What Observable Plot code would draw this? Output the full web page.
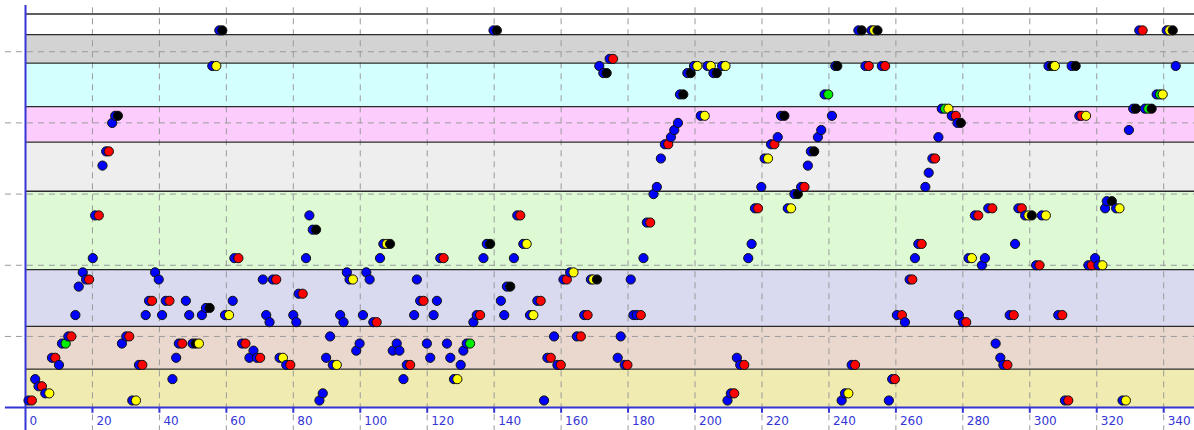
<!DOCTYPE html>
<html>
<head>
<meta charset="utf-8">
<script src="https://cdn.jsdelivr.net/npm/d3@7"></script>
<script src="https://cdn.jsdelivr.net/npm/@observablehq/plot@0.6"></script>
<style>
  html, body { margin: 0; padding: 0; background: #ffffff; }
  svg { display: block; }
</style>
</head>
<body>
<div id="chart"></div>
<script>
// ---- data ----
const xTicks = [0, 20, 40, 60, 80, 100, 120, 140, 160, 180, 200, 220, 240, 260, 280, 300, 320, 340];
const yGrid = [10, 20, 30, 40, 50];

const bandLow   = [0,   5.4,  11.4, 19.4, 30.4, 37.3, 42.3, 48.4, 52.4];
const bandHigh  = [5.4, 11.4, 19.4, 30.4, 37.3, 42.3, 48.4, 52.4, 55.3];
const bandColor = ["#efebb1", "#ead8ce", "#d9d9ef", "#ddfad5", "#eeeeee", "#fcccfc", "#d4ffff", "#d3d3d3", "#ffffff"];

const pointX = [
  0.9,1.9,2.9,3.9,4.9,5.9,7.1,7.9,8.9,10.0,10.9,12.0,12.8,13.7,14.9,15.9,17.1,18.1,19.0,20.1,
  20.8,21.9,23.0,24.1,24.9,25.9,26.8,27.6,28.8,30.1,31.0,31.9,33.0,33.9,34.9,35.9,36.9,37.8,38.7,39.8,
  40.8,41.9,43.0,43.9,45.0,45.8,46.8,47.9,48.9,49.9,50.8,51.8,52.7,53.9,55.0,55.8,57.0,57.9,58.8,59.6,
  60.8,61.9,62.4,63.6,64.7,65.7,66.9,68.1,69.1,70.1,70.9,71.9,72.9,73.9,74.9,75.9,76.9,77.9,79.1,80.0,
  80.9,81.6,82.8,83.8,84.8,85.8,86.8,87.8,88.8,89.8,91.0,91.8,93.0,94.0,95.0,96.0,96.8,97.8,98.8,99.8,
  100.8,101.8,102.8,103.9,104.9,105.9,106.9,107.9,108.9,109.7,110.9,111.7,112.9,113.9,114.9,116.1,116.9,117.9,118.9,119.9,
  120.9,121.9,122.9,123.9,124.9,125.9,126.9,128.0,129.0,130.0,130.8,131.8,132.8,133.8,134.8,135.8,136.8,137.8,138.8,139.8,
  140.8,142.0,143.0,143.8,144.8,145.9,146.9,147.8,148.7,149.7,150.7,151.7,152.9,153.9,154.9,155.9,156.9,157.9,158.9,159.9,
  160.7,161.7,162.7,163.7,164.7,165.9,166.9,167.9,168.9,169.6,170.7,171.4,172.6,173.6,174.5,175.5,176.9,177.8,179.0,179.8,
  180.8,181.6,182.6,183.8,184.6,185.6,186.6,187.6,188.6,189.8,191.0,192.0,192.8,193.8,194.9,195.5,196.5,197.7,198.7,199.7,
  200.7,201.7,202.9,203.7,204.7,205.5,206.5,208.1,209.1,209.7,210.7,211.7,212.5,213.5,214.7,215.9,216.9,217.9,218.8,219.8,
  220.8,221.8,222.7,223.7,224.7,225.7,226.7,227.7,228.7,229.7,230.7,231.7,232.7,233.7,234.6,235.6,236.7,237.7,238.7,239.8,
  240.9,241.9,242.5,243.8,244.8,245.8,246.8,247.8,248.8,249.8,250.9,251.9,252.7,253.5,254.5,255.8,256.8,257.9,258.9,259.7,
  260.3,261.8,262.7,264.1,264.9,265.7,266.7,267.7,268.8,269.8,270.9,271.7,272.7,273.7,274.7,275.7,276.7,277.9,278.4,279.4,
  278.8,280.0,281.0,281.7,282.7,283.6,284.6,285.7,286.6,287.6,288.8,289.8,291.2,292.1,293.3,294.0,295.2,295.6,296.6,297.6,
  298.6,299.6,300.6,301.9,302.9,303.6,304.8,305.6,306.6,307.5,308.5,309.7,310.5,311.5,312.5,313.7,314.8,315.5,316.8,317.5,
  318.5,319.5,320.5,321.7,322.5,323.0,324.5,325.8,326.8,327.7,328.7,329.6,330.9,331.7,332.7,333.7,334.4,335.4,336.4,337.9,
  338.9,339.7,340.9,341.7,342.7,343.6
];
const pointLevel = [
  1,1,4,3,3,2,2,7,7,6,9,9,10,10,13,17,19,18,18,21,
  27,27,34,36,36,40,41,41,9,10,10,1,1,6,6,13,15,15,19,18,
  13,15,15,4,7,9,9,15,13,9,9,9,13,14,14,48,48,53,53,13,
  13,15,21,21,9,9,7,8,7,7,18,13,12,18,18,7,7,6,6,13,
  12,16,16,21,27,25,25,1,2,7,10,6,6,13,12,19,18,18,8,9,
  13,19,18,12,12,21,23,23,23,8,9,8,4,6,6,13,18,15,15,9,
  7,13,15,21,21,9,7,4,4,6,8,9,9,12,13,13,21,23,23,53,
  53,15,13,17,17,21,27,27,23,23,13,13,15,15,1,7,7,10,6,6,
  18,18,19,19,10,10,13,13,18,18,18,48,47,47,49,49,7,10,6,6,
  18,13,13,13,21,26,26,30,31,35,37,37,38,39,40,44,44,47,47,48,
  48,41,41,48,48,47,47,48,48,1,2,2,7,6,6,21,23,28,28,31,
  35,35,37,37,38,41,41,28,28,30,30,31,31,34,36,36,38,39,44,44,
  41,48,48,1,2,2,6,6,53,53,48,48,53,53,53,48,48,1,4,4,
  13,13,12,18,18,21,23,23,31,33,35,35,38,42,42,42,41,41,40,40,
  13,12,12,21,21,27,27,20,21,28,28,9,7,6,6,13,13,23,28,28,
  27,27,27,20,20,27,27,48,48,48,13,13,1,1,48,48,41,41,41,20,
  20,21,20,20,28,29,29,28,28,1,1,39,42,42,53,53,42,42,42,44,
  44,44,53,53,53,48
];
const pointColor = [
  "B","R","B","B","R","B","Y","B","R","B","B","G","B","R","B","B","B","B","R","B",
  "B","R","B","B","R","B","B","K","B","B","R","B","Y","B","R","B","B","R","B","B",
  "B","B","R","B","B","B","R","B","B","B","K","Y","B","B","K","B","Y","B","K","B",
  "Y","B","B","R","B","R","B","B","B","R","B","B","B","B","R","B","Y","B","R","B",
  "B","B","R","B","B","B","K","B","B","B","B","B","Y","B","B","B","B","Y","B","B",
  "B","B","B","B","R","B","B","Y","K","B","B","B","B","B","R","B","B","B","R","B",
  "B","B","B","B","R","B","B","B","Y","B","B","B","G","B","B","R","B","B","K","B",
  "K","B","B","B","K","B","B","R","B","Y","B","Y","B","R","B","B","R","B","B","R",
  "B","R","B","Y","B","R","B","R","B","Y","K","B","B","K","B","R","B","B","B","R",
  "B","B","B","R","B","B","R","B","B","B","B","R","B","B","B","B","K","B","K","B",
  "Y","B","Y","B","Y","B","K","B","Y","B","B","R","B","B","R","B","B","B","R","B",
  "B","Y","B","R","B","B","K","B","Y","B","K","B","R","B","B","K","B","B","B","G",
  "B","B","K","B","B","Y","B","R","B","K","B","R","B","Y","K","B","R","B","B","R",
  "B","R","B","B","R","B","B","R","B","B","B","R","B","B","G","Y","B","R","B","K",
  "B","B","R","B","Y","B","R","B","B","B","R","B","B","B","R","B","R","B","B","R",
  "B","Y","K","B","R","B","Y","B","K","Y","B","R","B","R","B","K","B","R","Y","B",
  "R","B","B","Y","B","B","K","B","Y","B","Y","B","B","K","B","R","B","G","K","B",
  "G","Y","B","Y","K","B"
];

const colorHex = {B: "#0000ff", R: "#ff0000", Y: "#ffff00", K: "#000000", G: "#00ee00"};
const axisBlue = "#3535d6";

const points = pointX.map((x, i) => ({x, level: pointLevel[i], color: colorHex[pointColor[i]]}));
const bands = bandLow.map((lo, i) => ({lo, hi: bandHigh[i], color: bandColor[i]}));
const boundaries = bandHigh;

const X_MAX = 349.2;

const chart = Plot.plot({
  width: 1194,
  height: 430,
  x: {domain: [0, X_MAX], range: [25, 1194], axis: null},
  y: {domain: [0, 57.2], range: [407.1, 0], axis: null},
  color: {type: "identity"},
  style: {background: "#ffffff", fontFamily: "DejaVu Sans, sans-serif"},
  marks: [
    Plot.rect(bands, {x1: 0, x2: X_MAX, y1: "lo", y2: "hi", fill: "color"}),
    Plot.ruleX(xTicks.filter(t => t > 0), {y1: -3.4, y2: 56.6, stroke: "#9a9a9a", strokeWidth: 1, strokeDasharray: "6,5"}),
    Plot.ruleY(yGrid, {x1: -6, x2: X_MAX, stroke: "#9a9a9a", strokeWidth: 1, strokeDasharray: "6,5"}),
    Plot.ruleY(boundaries, {x1: 0, x2: X_MAX, stroke: "#2a2a2a", strokeWidth: 1.3}),
    Plot.ruleY([0], {x1: -6, x2: X_MAX, stroke: axisBlue, strokeWidth: 2}),
    Plot.ruleX([0], {y1: -3.4, y2: 56.5, stroke: axisBlue, strokeWidth: 2}),
    Plot.ruleX(xTicks.filter(t => t > 0), {y1: 0, y2: -0.8, stroke: axisBlue, strokeWidth: 2}),
    Plot.text(xTicks, {x: d => d, y: -1.85, text: d => String(d), dx: 4, textAnchor: "start", fill: axisBlue, fontSize: 12}),
    Plot.dot(points, {x: "x", y: "level", fill: "color", stroke: "#111111", strokeWidth: 1, r: 4.6})
  ]
});
document.getElementById("chart").appendChild(chart);
</script>
</body>
</html>
